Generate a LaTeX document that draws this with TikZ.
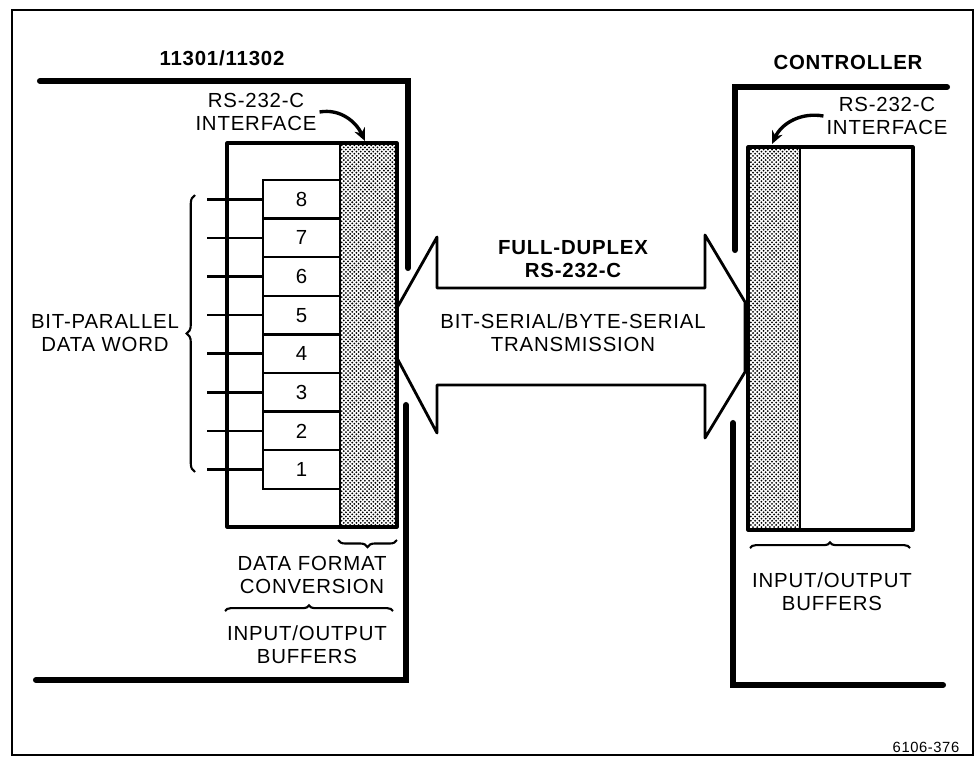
\documentclass[tikz,border=0pt]{standalone}
\usepackage{fontspec}
\setmainfont{Liberation Sans}[LetterSpace=4]
\usetikzlibrary{patterns,decorations.pathreplacing,arrows.meta}

\pgfdeclarepatternformonly{screendots}{\pgfqpoint{-1pt}{-1pt}}{\pgfqpoint{4pt}{4pt}}{\pgfqpoint{3pt}{3pt}}{
  \pgfpathcircle{\pgfqpoint{0pt}{0pt}}{0.72pt}
  \pgfpathcircle{\pgfqpoint{1.5pt}{1.5pt}}{0.72pt}
  \pgfusepath{fill}
}

\tikzset{
  wall/.style={line width=4.3pt, line cap=round},
  boxline/.style={line width=2.2pt, line join=round},
  dots/.style={pattern=screendots},
  reg/.style={draw, line width=1.7pt, minimum width=1.925cm, minimum height=0.965cm,
    inner sep=0pt, font=\fontsize{14.5}{16.3}\selectfont},
  bus/.style={line width=1.8pt},
  lbl/.style={align=center, inner sep=2pt, font=\fontsize{14.5}{16.3}\selectfont},
  ttl/.style={align=center, inner sep=2pt, font=\fontsize{14.5}{16.3}\selectfont\bfseries},
  brc/.style={decorate, decoration={brace, amplitude=#1}, line width=1.5pt},
  bendarrow/.style={line width=2.4pt, -{Stealth[length=9pt,width=8pt]}},
  bigarrow/.style={line width=2pt, line join=round}
}

\begin{document}
\begin{tikzpicture}[x=0.025cm, y=-0.025cm]
  \useasboundingbox (0,0) rectangle (976,757);

  % Moldura
  \draw[line width=1.2pt] (12,10) rectangle (973,755);

  % Paredes dos equipamentos
  \draw[wall] (40,81) -- (408,81) -- (408,268);
  \draw[wall] (406,405) -- (406,680) -- (36,680);
  \draw[wall] (735,250) -- (735,87) -- (947,87);
  \draw[wall] (733,423) -- (733,685) -- (943,685);

  % Seta dupla
  \draw[bigarrow] (397,308) -- (437,237) -- (437,288) -- (705,288) -- (705,235)
    -- (745,302) -- (745,372) -- (705,438) -- (705,385) -- (437,385)
    -- (437,433) -- (397,358) -- cycle;

  % Caixa da esquerda
  \fill[dots] (340,143) rectangle (397,527);
  \draw[line width=1.7pt] (340,143) -- (340,527);
  \draw[boxline] (227,143) rectangle (397,527);

  % Registradores
  \foreach \n in {1,...,8}{
    \node[reg] (r\n) at (301.5,{469.5-38.6*(\n-1)}) {\n};
    \coordinate (w\n) at (207,{469.5-38.6*(\n-1)});
    \draw[bus] (w\n) -- (r\n.west);
  }

  % Caixa da direita
  \fill[dots] (748,147) rectangle (800,530);
  \draw[line width=1.7pt] (800,147) -- (800,530);
  \draw[boxline] (748,147) rectangle (913,530);

  % Titulos
  \node[ttl] (dev) at (222,58) {11301/11302};
  \node[ttl] (ctl) at (848,62) {CONTROLLER};

  % Interfaces
  \node[lbl] (lif) at (256,112) {RS-232-C\\INTERFACE};
  \coordinate (lhit) at (365,141);
  \draw[bendarrow] (lif.east) to[out=10,in=115] (lhit);
  \node[lbl] (rif) at (887,116) {RS-232-C\\INTERFACE};
  \coordinate (rhit) at (772,144);
  \draw[bendarrow] (rif.west) to[out=170,in=65] (rhit);

  % Palavra de dados
  \draw[brc=6pt] (195,472) -- (195,195);
  \node[lbl] (word) at (105,333) {BIT-PARALLEL\\DATA WORD};

  % Textos da seta
  \node[ttl] (duplex) at (573,259) {FULL-DUPLEX\\RS-232-C};
  \node[lbl] (serial) at (573,333) {BIT-SERIAL/BYTE-SERIAL\\TRANSMISSION};

  % Chaves de baixo
  \draw[brc=5pt] (397,540) -- (338,540);
  \node[lbl] (conv) at (312,575) {DATA FORMAT\\CONVERSION};
  \draw[brc=4pt] (225,611) -- (393,611);
  \node[lbl] (lbuf) at (307,645) {INPUT/OUTPUT\\BUFFERS};
  \draw[brc=4pt] (750,548) -- (910,548);
  \node[lbl] (rbuf) at (832,592) {INPUT/OUTPUT\\BUFFERS};

  % Numero da figura
  \node[font=\fontsize{10.5}{12}\selectfont, inner sep=0pt] (fig) at (926,747) {6106-376};
\end{tikzpicture}
\end{document}
